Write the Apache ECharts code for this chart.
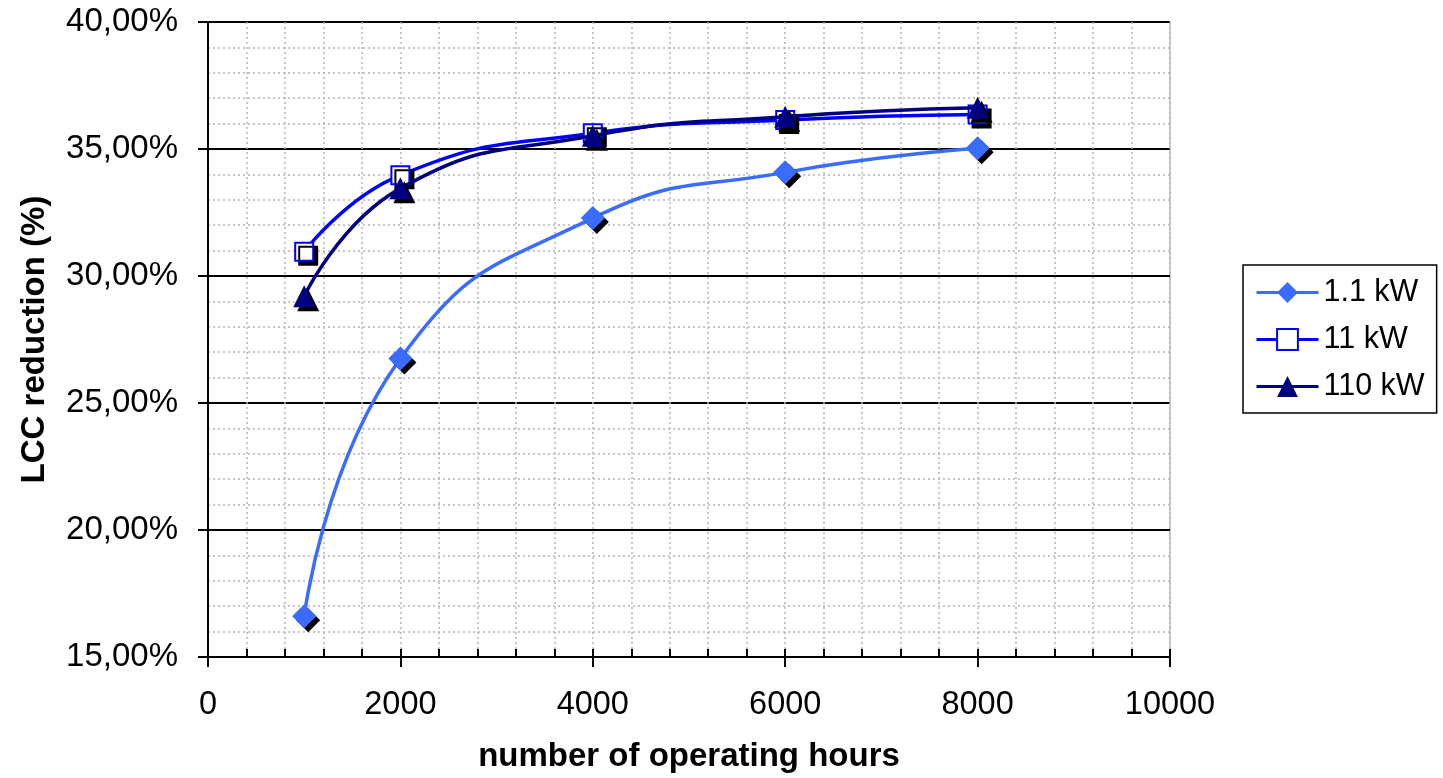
<!DOCTYPE html>
<html>
<head>
<meta charset="utf-8">
<script src="https://cdn.jsdelivr.net/npm/echarts@6/dist/echarts.min.js"></script>
<style>
html,body{margin:0;padding:0;background:#fff;}
#chart{width:1443px;height:778px;}
</style>
</head>
<body>
<div id="chart"></div>
<script>
const hours = [1000, 2000, 4000, 6000, 8000];
const kw1_1 = [16.6, 26.75, 32.28, 34.08, 35.03];
const kw11 = [30.95, 33.97, 35.62, 36.14, 36.36];
const kw110 = [29.2, 33.45, 35.52, 36.27, 36.62];
const seriesNames = ['1.1 kW', '11 kW', '110 kW'];
const xTicks = [0, 2000, 4000, 6000, 8000, 10000];
const yTicks = [15, 20, 25, 30, 35, 40];

const FONT = 'Liberation Sans, Arial, sans-serif';
const chart = echarts.init(document.getElementById('chart'));
const pairs = arr => hours.map((h, i) => [h, arr[i]]);
const shadow = {shadowColor: '#000', shadowOffsetX: 4, shadowOffsetY: 4, shadowBlur: 0};

chart.setOption({
  animation: false,
  backgroundColor: '#fff',
  grid: {left: 208, right: 273, top: 22, bottom: 121, show: true, borderColor: '#999', borderWidth: 1},
  legend: {
    orient: 'vertical', left: 1243, top: 265,
    padding: [12, 12, 11, 12], itemGap: 16,
    itemWidth: 62, itemHeight: 26,
    borderColor: '#000', borderWidth: 1.5,
    textStyle: {fontFamily: FONT, fontSize: 30.5, color: '#000', lineHeight: 31},
    itemStyle: {shadowColor: 'rgba(0,0,0,0)', shadowOffsetX: 0, shadowOffsetY: 0},
    lineStyle: {width: 3},
    data: seriesNames
  },
  xAxis: [{
    type: 'value', min: xTicks[0], max: xTicks[xTicks.length - 1], interval: 2000,
    name: 'number of operating hours', nameLocation: 'middle', nameGap: 83,
    nameTextStyle: {fontFamily: FONT, fontSize: 33, fontWeight: 'bold', color: '#000'},
    axisLine: {show: true, lineStyle: {color: '#000', width: 2}},
    axisTick: {show: true, inside: true, length: 8, lineStyle: {color: '#000', width: 2}},
    minorTick: {show: true, splitNumber: 5, length: 8, lineStyle: {color: '#000', width: 2}},
    axisLabel: {fontFamily: FONT, fontSize: 32.5, color: '#000', margin: 32,
      formatter: v => String(v)},
    splitLine: {show: true, lineStyle: {color: '#b4b4b4', type: [2, 3], width: 1.5}},
    minorSplitLine: {show: true, lineStyle: {color: '#b4b4b4', type: [2, 3], width: 1.5}}
  }, {
    type: 'value', min: xTicks[0], max: xTicks[xTicks.length - 1], interval: 2000,
    position: 'bottom', gridIndex: 0,
    axisLine: {show: false},
    axisTick: {show: true, inside: false, length: 10, lineStyle: {color: '#000', width: 2}},
    axisLabel: {show: false}, splitLine: {show: false}
  }],
  yAxis: [{
    type: 'value', min: yTicks[0], max: yTicks[yTicks.length - 1], interval: 5,
    name: 'LCC reduction (%)', nameLocation: 'middle', nameGap: 157, nameRotate: 90,
    nameTextStyle: {fontFamily: FONT, fontSize: 33, fontWeight: 'bold', color: '#000'},
    axisLine: {show: true, lineStyle: {color: '#000', width: 2}},
    axisTick: {show: true, inside: false, length: 10, lineStyle: {color: '#000', width: 2}},
    axisLabel: {fontFamily: FONT, fontSize: 33, color: '#000', margin: 30,
      formatter: v => v.toFixed(2).replace('.', ',') + '%'},
    splitLine: {show: true, lineStyle: {color: '#000', width: 2}},
    minorTick: {show: false, splitNumber: 5},
    minorSplitLine: {show: true, lineStyle: {color: '#b4b4b4', type: [2, 3], width: 1.5}}
  }, {
    type: 'value', min: yTicks[0], max: yTicks[yTicks.length - 1], interval: 5,
    position: 'left', offset: 0,
    axisLine: {show: false},
    axisTick: {show: true, inside: true, length: 8, lineStyle: {color: '#000', width: 2}},
    axisLabel: {show: false}, splitLine: {show: false}
  }],
  series: [{
    name: seriesNames[0], type: 'line', smooth: 0.5, data: pairs(kw1_1),
    symbol: 'diamond', symbolSize: 24, z: 3,
    lineStyle: {color: '#3a6cff', width: 3.5},
    itemStyle: Object.assign({color: '#3a6cff'}, shadow)
  }, {
    name: seriesNames[1], type: 'line', smooth: 0.5, data: pairs(kw11),
    symbol: 'rect', symbolSize: 18, z: 4,
    lineStyle: {color: '#0000ff', width: 3.5},
    itemStyle: Object.assign({color: '#fff', borderColor: '#0000ff', borderWidth: 2}, shadow)
  }, {
    name: seriesNames[2], type: 'line', smooth: 0.5, data: pairs(kw110),
    symbol: 'triangle', symbolSize: 22, z: 5,
    lineStyle: {color: '#000080', width: 3.5},
    itemStyle: Object.assign({color: '#000080'}, shadow)
  }]
});
</script>
</body>
</html>
